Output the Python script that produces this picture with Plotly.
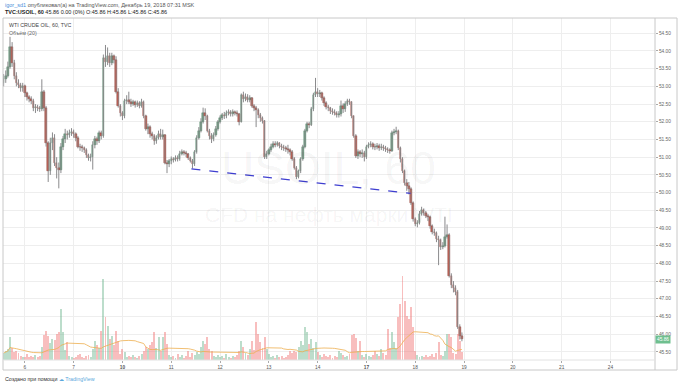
import plotly.graph_objects as go
import pandas as pd

# ---------------- data (hourly bars, TVC:USOIL 60) ----------------
opens = [
    53.10, 53.20, 53.30, 53.55, 54.10, 53.65, 53.30, 53.10, 53.05, 52.95,
    53.00, 52.80, 52.70, 52.65, 52.60, 52.40, 52.42, 52.38, 52.35, 52.85,
    52.40, 51.40, 50.60, 51.40, 51.55, 50.85, 50.70, 50.65, 51.30, 51.50,
    51.65, 51.62, 51.68, 51.72, 51.65, 51.55, 51.30, 51.28, 51.25, 51.20,
    51.05, 50.98, 51.00, 51.35, 51.50, 51.45, 51.68, 51.60, 53.80, 53.70,
    53.85, 53.65, 53.85, 53.75, 52.85, 52.45, 52.25, 52.15, 52.58, 52.62,
    52.55, 52.50, 52.55, 52.48, 52.52, 52.45, 52.55, 52.15, 51.80, 51.85,
    51.65, 51.60, 51.45, 51.55, 51.65, 51.58, 51.62, 50.85, 50.82, 50.88,
    50.95, 50.92, 50.98, 50.95, 51.10, 51.15, 51.12, 51.08, 50.98, 50.90,
    50.80, 51.15, 51.55, 51.75, 52.00, 52.25, 52.15, 51.75, 51.60, 51.52,
    51.62, 51.80, 52.00, 52.10, 52.18, 52.15, 52.25, 52.28, 52.22, 52.28,
    52.25, 52.22, 52.00, 52.75, 52.65, 52.70, 52.62, 52.68, 52.45, 52.38,
    52.32, 52.20, 52.10, 52.02, 51.00, 51.10, 51.20, 51.30, 51.38, 51.35,
    51.40, 51.32, 51.28, 51.25, 51.22, 51.20, 51.15, 50.95, 50.70, 50.45,
    50.60, 50.95, 51.30, 51.75, 51.95, 51.90, 52.35, 52.75, 52.85, 52.78,
    52.80, 52.68, 52.52, 52.42, 52.38, 52.30, 52.28, 52.25, 52.20, 52.22,
    52.45, 52.35, 52.50, 52.58, 52.55, 52.15, 51.60, 51.02, 51.15, 51.08,
    51.12, 51.00, 51.30, 51.35, 51.38, 51.30, 51.28, 51.32, 51.25, 51.30,
    51.25, 51.22, 51.20, 51.18, 51.68, 51.72, 51.75, 51.25, 50.95, 50.60,
    50.28, 50.20, 50.10, 49.70, 49.25, 49.12, 49.15, 49.40, 49.50, 49.42,
    49.35, 49.30, 49.05, 48.90, 48.85, 48.70, 48.65, 48.45, 48.50, 48.75,
    48.80, 47.65, 47.40, 47.30, 47.20, 46.20, 45.95,
]
closes = [
    53.20, 53.30, 53.55, 54.10, 53.65, 53.30, 53.10, 53.05, 52.95, 53.00,
    52.80, 52.70, 52.65, 52.60, 52.40, 52.42, 52.38, 52.35, 52.85, 52.40,
    51.40, 50.60, 51.40, 51.55, 50.85, 50.70, 50.65, 51.30, 51.50, 51.65,
    51.62, 51.68, 51.72, 51.65, 51.55, 51.30, 51.28, 51.25, 51.20, 51.05,
    50.98, 51.00, 51.35, 51.50, 51.45, 51.68, 51.60, 53.80, 53.70, 53.85,
    53.65, 53.85, 53.75, 52.85, 52.45, 52.25, 52.15, 52.58, 52.62, 52.55,
    52.50, 52.55, 52.48, 52.52, 52.45, 52.55, 52.15, 51.80, 51.85, 51.65,
    51.60, 51.45, 51.55, 51.65, 51.58, 51.62, 50.85, 50.82, 50.88, 50.95,
    50.92, 50.98, 50.95, 51.10, 51.15, 51.12, 51.08, 50.98, 50.90, 50.80,
    51.15, 51.55, 51.75, 52.00, 52.25, 52.15, 51.75, 51.60, 51.52, 51.62,
    51.80, 52.00, 52.10, 52.18, 52.15, 52.25, 52.28, 52.22, 52.28, 52.25,
    52.22, 52.00, 52.75, 52.65, 52.70, 52.62, 52.68, 52.45, 52.38, 52.32,
    52.20, 52.10, 52.02, 51.00, 51.10, 51.20, 51.30, 51.38, 51.35, 51.40,
    51.32, 51.28, 51.25, 51.22, 51.20, 51.15, 50.95, 50.70, 50.45, 50.60,
    50.95, 51.30, 51.75, 51.95, 51.90, 52.35, 52.75, 52.85, 52.78, 52.80,
    52.68, 52.52, 52.42, 52.38, 52.30, 52.28, 52.25, 52.20, 52.22, 52.45,
    52.35, 52.50, 52.58, 52.55, 52.15, 51.60, 51.02, 51.15, 51.08, 51.12,
    51.00, 51.30, 51.35, 51.38, 51.30, 51.28, 51.32, 51.25, 51.30, 51.25,
    51.22, 51.20, 51.18, 51.68, 51.72, 51.75, 51.25, 50.95, 50.60, 50.28,
    50.20, 50.10, 49.70, 49.25, 49.12, 49.15, 49.40, 49.50, 49.42, 49.35,
    49.30, 49.05, 48.90, 48.85, 48.70, 48.65, 48.45, 48.50, 48.75, 48.80,
    47.65, 47.40, 47.30, 47.20, 46.20, 45.95, 45.86,
]
highs = [
    53.35, 53.45, 53.70, 54.40, 54.25, 53.75, 53.40, 53.20, 53.10, 53.10,
    53.05, 52.85, 52.75, 52.72, 52.65, 52.50, 52.48, 52.45, 53.20, 52.90,
    52.45, 51.45, 51.55, 51.70, 51.65, 51.00, 50.85, 51.40, 51.60, 51.80,
    51.75, 51.78, 51.82, 51.78, 51.70, 51.60, 51.38, 51.35, 51.30, 51.25,
    51.10, 51.10, 51.45, 51.60, 51.58, 51.75, 51.75, 53.90, 54.17, 54.10,
    53.95, 53.95, 53.90, 53.85, 52.95, 52.50, 52.30, 52.65, 52.75, 52.85,
    52.65, 52.62, 52.60, 52.60, 52.58, 52.65, 52.60, 52.20, 51.95, 51.90,
    51.72, 51.65, 51.62, 51.75, 51.80, 51.78, 51.65, 50.92, 50.95, 51.02,
    51.00, 51.05, 51.05, 51.18, 51.22, 51.20, 51.18, 51.12, 51.02, 50.95,
    51.20, 51.62, 51.85, 52.10, 52.40, 52.38, 52.20, 51.80, 51.68, 51.70,
    51.88, 52.05, 52.18, 52.25, 52.28, 52.32, 52.35, 52.33, 52.35, 52.32,
    52.32, 52.25, 52.80, 52.85, 52.80, 52.78, 52.75, 52.70, 52.50, 52.45,
    52.38, 52.25, 52.15, 52.05, 51.18, 51.25, 51.38, 51.45, 51.45, 51.45,
    51.42, 51.38, 51.35, 51.32, 51.35, 51.25, 51.20, 51.00, 50.75, 50.65,
    51.00, 51.35, 51.80, 52.00, 52.00, 52.42, 52.82, 53.24, 52.95, 52.90,
    52.85, 52.72, 52.58, 52.48, 52.42, 52.38, 52.35, 52.30, 52.30, 52.60,
    52.52, 52.58, 52.65, 52.65, 52.58, 52.18, 51.65, 51.22, 51.20, 51.22,
    51.18, 51.35, 51.42, 51.45, 51.42, 51.38, 51.40, 51.38, 51.38, 51.35,
    51.32, 51.28, 51.25, 51.75, 51.80, 51.86, 51.78, 51.30, 51.00, 50.65,
    50.38, 50.30, 50.15, 49.75, 49.30, 49.22, 49.48, 49.60, 49.55, 49.48,
    49.40, 49.35, 49.10, 48.98, 48.90, 48.78, 48.70, 48.60, 49.32, 49.10,
    48.85, 47.72, 47.50, 47.38, 47.25, 46.28, 46.05,
]
lows = [
    53.00, 53.10, 53.25, 53.50, 53.55, 53.20, 53.00, 52.95, 52.85, 52.85,
    52.70, 52.60, 52.55, 52.50, 52.30, 52.25, 52.30, 52.28, 52.30, 52.30,
    51.30, 50.30, 50.50, 51.20, 50.75, 50.40, 50.12, 50.55, 51.20, 51.40,
    51.50, 51.55, 51.60, 51.55, 51.45, 51.25, 51.18, 51.15, 51.12, 50.98,
    50.90, 50.88, 50.65, 51.25, 51.35, 51.40, 51.50, 51.55, 53.55, 53.60,
    53.55, 53.60, 53.65, 52.80, 52.40, 52.15, 52.05, 52.10, 52.50, 52.50,
    52.42, 52.45, 52.40, 52.42, 52.38, 52.40, 52.10, 51.75, 51.65, 51.55,
    51.50, 51.35, 51.38, 51.50, 51.50, 51.50, 50.80, 50.55, 50.72, 50.80,
    50.85, 50.88, 50.88, 50.90, 51.05, 51.05, 51.00, 50.92, 50.85, 50.68,
    50.75, 51.10, 51.50, 51.70, 51.95, 52.05, 51.70, 51.50, 51.40, 51.45,
    51.58, 51.75, 51.95, 52.05, 52.08, 52.10, 52.18, 52.15, 52.15, 52.18,
    52.15, 51.90, 51.98, 52.55, 52.58, 52.55, 52.55, 52.40, 52.30, 51.85,
    52.10, 52.00, 51.95, 50.95, 50.95, 51.05, 51.15, 51.25, 51.28, 51.30,
    51.25, 51.20, 51.18, 51.15, 51.10, 51.05, 50.90, 50.65, 50.38, 50.40,
    50.55, 50.90, 51.25, 51.70, 51.82, 51.88, 52.30, 52.70, 52.70, 52.70,
    52.60, 52.45, 52.35, 52.30, 52.22, 52.20, 52.18, 52.12, 52.12, 52.15,
    52.25, 52.28, 52.45, 52.48, 52.10, 51.55, 50.98, 50.95, 51.00, 50.98,
    50.88, 50.95, 51.25, 51.28, 51.22, 51.20, 51.22, 51.18, 51.20, 51.18,
    51.15, 51.12, 51.10, 51.15, 51.62, 51.65, 51.20, 50.85, 50.55, 50.20,
    50.05, 49.95, 49.65, 49.18, 49.05, 49.02, 49.10, 49.35, 49.35, 49.28,
    49.20, 48.98, 48.82, 48.78, 48.60, 47.95, 48.38, 48.40, 48.45, 48.70,
    47.60, 47.30, 47.18, 47.10, 46.15, 45.85, 45.80,
]
volumes = [
    700, 900, 1100, 2300, 1200, 800, 900, 700, 400, 300,
    300, 600, 300, 400, 300, 500, 300, 400, 1300, 2500,
    2900, 2400, 1700, 2100, 2000, 2600, 2800, 5100, 2800, 1000,
    1800, 400, 300, 200, 300, 500, 600, 300, 200, 400,
    500, 300, 1100, 1900, 1500, 1200, 2900, 8100, 4300, 3400,
    2100, 2400, 1500, 2900, 1900, 600, 1100, 800, 300, 400,
    300, 500, 300, 200, 400, 600, 900, 1300, 1100, 1500,
    1800, 2800, 1200, 2300, 900, 2300, 2800, 1600, 500, 300,
    400, 200, 600, 300, 500, 200, 400, 900, 300, 700,
    500, 800, 600, 1300, 1900, 1600, 2300, 1100, 900, 400,
    300, 500, 300, 400, 200, 600, 300, 200, 400, 300,
    500, 900, 1900, 1300, 700, 500, 1100, 1900, 1000, 3800,
    2600, 1800, 1200, 2300, 1100, 600, 300, 400, 200, 500,
    300, 400, 200, 300, 500, 900, 700, 900, 800, 1300,
    1900, 1500, 3300, 2800, 1600, 2100, 1200, 1800, 800, 500,
    300, 600, 400, 300, 500, 200, 400, 300, 900, 700,
    500, 300, 400, 600, 2500, 2600, 2200, 900, 1900, 500,
    300, 600, 400, 300, 500, 900, 600, 400, 1100, 700,
    500, 3100, 1200, 2800, 1800, 1200, 4300, 5600, 8400, 5900,
    4400, 4100, 5300, 3300, 900, 500, 300, 400, 300, 500,
    300, 400, 600, 300, 700, 1800, 500, 400, 900, 2600,
    2600, 2300, 700, 600, 2600, 1900, 800,
]
day_labels = ["6", "7", "<b>10</b>", "11", "12", "13", "14", "<b>17</b>",
              "18", "19", "20", "21", "24"]
bars_per_day = 23
first_day_bar = 10
price_ticks = [54.5, 54.0, 53.5, 53.0, 52.5, 52.0, 51.5, 51.0, 50.5, 50.0,
               49.5, 49.0, 48.5, 48.0, 47.5, 47.0, 46.5, 46.0, 45.5]
trend_x = [88.5, 191.8]
trend_y = [50.67, 49.98]
last_price = 45.86

# ---------------- derived ----------------
n = len(closes)
x = list(range(n))
is_up = [c >= o for o, c in zip(opens, closes)]
tick_pos = [first_day_bar + k * bars_per_day for k in range(len(day_labels))]
vol_ma = pd.Series(volumes).rolling(20, min_periods=1).mean().tolist()

UP_FILL, UP_LINE = "#6ba583", "#2f6b48"
DN_FILL, DN_LINE = "#d75442", "#6b2219"
FONT = "Liberation Sans, Arial, sans-serif"

fig = go.Figure()

# volume
fig.add_trace(go.Bar(
    x=x, y=volumes, yaxis="y2", width=0.92,
    marker=dict(color=["rgba(107,180,140,0.45)" if u else "rgba(240,110,110,0.45)" for u in is_up],
                line=dict(width=0)),
    hoverinfo="skip", showlegend=False))
fig.add_trace(go.Scatter(
    x=x, y=vol_ma, yaxis="y2", mode="lines",
    line=dict(color="rgba(238,175,80,0.8)", width=1),
    hoverinfo="skip", showlegend=False))

# wicks
wx, wy = [], []
for i in x:
    wx += [i, i, None]
    wy += [lows[i], highs[i], None]
fig.add_trace(go.Scatter(x=wx, y=wy, mode="lines",
                         line=dict(color="#8a8a8c", width=1),
                         hoverinfo="skip", showlegend=False))

# bodies
for up_flag, fill, edge in [(True, UP_FILL, UP_LINE), (False, DN_FILL, DN_LINE)]:
    idx = [i for i in x if is_up[i] == up_flag]
    fig.add_trace(go.Bar(
        x=idx,
        base=[min(opens[i], closes[i]) for i in idx],
        y=[max(abs(closes[i] - opens[i]), 0.02) for i in idx],
        width=0.7,
        marker=dict(color=fill, line=dict(color=edge, width=0.4)),
        hoverinfo="skip", showlegend=False))

# trend line drawing
fig.add_trace(go.Scatter(x=trend_x, y=trend_y, mode="lines",
                         line=dict(color="#3f3fd0", width=1.3, dash="dash"),
                         hoverinfo="skip", showlegend=False))

def px_x(p):
    return (p - 3) / 652.0

def px_y(p):
    return (360 - p) / 342.0

annotations = [
    dict(x=px_x(3), y=px_y(5), xref="paper", yref="paper", xanchor="left", yanchor="middle",
         text="<span style='color:#4a90d9'>igor_sd1</span> опубликовал(а) на TradingView.com, Декабрь 19, 2018 07:31 MSK",
         showarrow=False, font=dict(size=5.5, color="#555", family=FONT)),
    dict(x=px_x(3), y=px_y(12.5), xref="paper", yref="paper", xanchor="left", yanchor="middle",
         text="<b>TVC:USOIL, 60</b> 45.86 0.00 (0%) O:45.86 H:45.86 L:45.86 C:45.86",
         showarrow=False, font=dict(size=5.5, color="#222", family=FONT)),
    dict(x=px_x(7), y=px_y(25), xref="paper", yref="paper", xanchor="left", yanchor="middle",
         text="WTI CRUDE OIL, 60, TVC", showarrow=False,
         font=dict(size=5.3, color="#444", family=FONT)),
    dict(x=px_x(7), y=px_y(33), xref="paper", yref="paper", xanchor="left", yanchor="middle",
         text="Объём (20)", showarrow=False,
         font=dict(size=5.3, color="#666", family=FONT)),
    dict(x=px_x(328), y=px_y(168), xref="paper", yref="paper", xanchor="center", yanchor="middle",
         text="USOIL, 60", showarrow=False,
         font=dict(size=46, color="rgba(0,0,0,0.05)", family=FONT)),
    dict(x=px_x(329), y=px_y(215), xref="paper", yref="paper", xanchor="center", yanchor="middle",
         text="CFD на нефть марки WTI", showarrow=False,
         font=dict(size=21, color="rgba(0,0,0,0.05)", family=FONT)),
    dict(x=1, y=last_price, xref="paper", yref="y", xanchor="left", yanchor="middle",
         text="%.2f" % last_price, showarrow=False, bgcolor="#6fbf8f", borderpad=1,
         font=dict(size=4.8, color="white", family=FONT)),
    dict(x=px_x(3), y=px_y(379), xref="paper", yref="paper", xanchor="left", yanchor="middle",
         text="Создано при помощи <span style='color:#5aa8dc'>☁ TradingView</span>",
         showarrow=False, font=dict(size=5.3, color="#333", family=FONT)),
]

shapes = [
    dict(type="rect", xref="paper", yref="paper", x0=0, x1=px_x(677), y0=px_y(370), y1=1,
         line=dict(color="#c8c8c8", width=1)),
    dict(type="line", xref="paper", yref="paper", x0=1, x1=1, y0=px_y(370), y1=1,
         line=dict(color="#c8c8c8", width=1)),
    dict(type="line", xref="paper", yref="paper", x0=0, x1=1, y0=0, y1=0,
         line=dict(color="#e2e2e2", width=1)),
]

fig.update_layout(
    width=680, height=387,
    margin=dict(l=3, r=25, t=18, b=27),
    paper_bgcolor="white", plot_bgcolor="white",
    barmode="overlay", bargap=0,
    showlegend=False,
    font=dict(family=FONT, size=5, color="#555"),
    xaxis=dict(range=[-0.3, 307.0], tickmode="array", tickvals=tick_pos, ticktext=day_labels,
               showgrid=True, gridcolor="#eeeeee", gridwidth=1, zeroline=False,
               ticks="outside", ticklen=2, tickcolor="#aaaaaa",
               tickfont=dict(size=4.8, color="#555", family=FONT), showline=False, fixedrange=True),
    yaxis=dict(range=[45.271, 54.932], side="right", tickmode="array", tickvals=price_ticks,
               ticktext=["%.2f" % v for v in price_ticks],
               showgrid=True, gridcolor="#eeeeee", gridwidth=1, zeroline=False,
               ticks="outside", ticklen=2, tickcolor="#aaaaaa",
               tickfont=dict(size=4.8, color="#666", family=FONT), showline=False),
    yaxis2=dict(range=[0, 34200], overlaying="y", visible=False, showgrid=False),
    annotations=annotations,
    shapes=shapes,
)

fig.write_html("out.html")
